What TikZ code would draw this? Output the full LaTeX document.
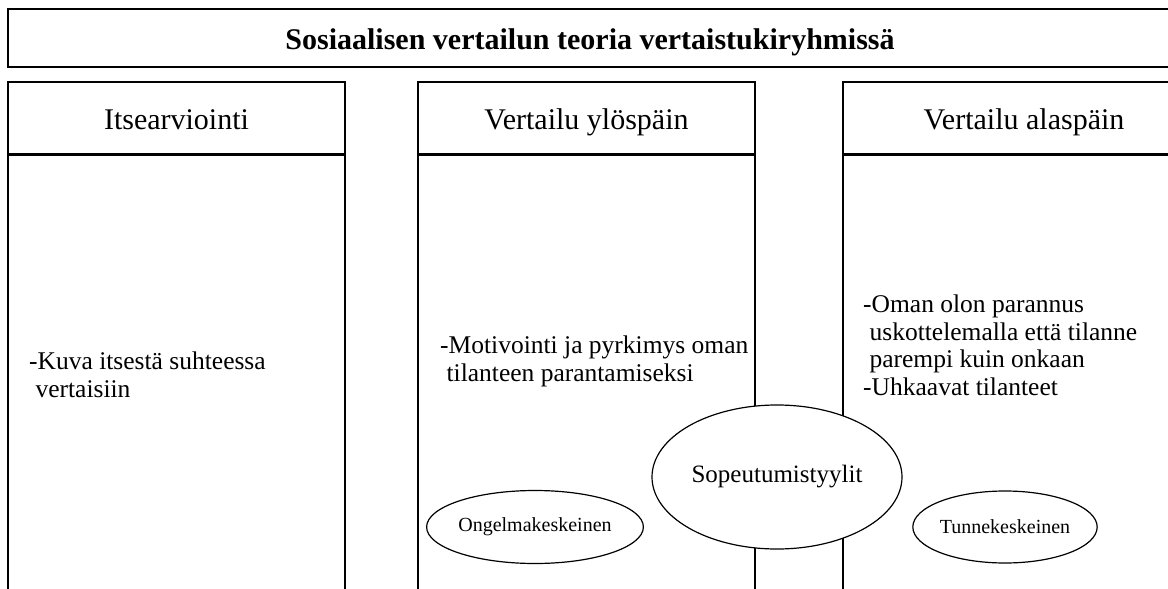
\documentclass[tikz,border=0pt]{standalone}
\usepackage{fontspec}
\setmainfont{Liberation Serif}
\usetikzlibrary{shapes.geometric,positioning}
\begin{document}
\begin{tikzpicture}[x=1pt,y=-1pt,
  box/.style={draw, line width=1.4pt, inner sep=0pt},
  hdr/.style={box, minimum height=72pt, text height=23pt, text depth=0pt, font=\fontsize{30}{36}\selectfont},
  colbody/.style={box, minimum height=520pt, anchor=north},
  txt/.style={inner sep=0pt, anchor=base west, align=left, font=\fontsize{25.5}{27.5}\selectfont},
  oval/.style={draw, fill=white, ellipse, line width=1.2pt, inner sep=0pt}]
\useasboundingbox (0,0) rectangle (1168,589);
\node[box, minimum width=1164pt, minimum height=58pt, text height=22pt, text depth=0pt, font=\bfseries\fontsize{30}{36}\selectfont] (title) at (590,38) {Sosiaalisen vertailun teoria vertaistukiryhmissä};
\node[hdr, minimum width=337pt] (self) at (176.5,118) {Itsearviointi};
\node[hdr, minimum width=337pt] (up) at (586.5,118) {Vertailu ylöspäin};
\node[hdr, minimum width=362pt] (down) at (1024,118) {Vertailu alaspäin};
\node[colbody, minimum width=337pt] (selfbody) at (self.south) {};
\node[colbody, minimum width=337pt] (upbody) at (up.south) {};
\node[colbody, minimum width=362pt] (downbody) at (down.south) {};
% base anchor sits on the last line
\node[txt] (selftxt) at (29,397) {-Kuva itsestä suhteessa\\\ vertaisiin};
\node[txt] (uptxt) at (440,381) {-Motivointi ja pyrkimys oman\\\ tilanteen parantamiseksi};
\node[txt] (downtxt) at (863,395) {-Oman olon parannus\\\ uskottelemalla että tilanne\\\ parempi kuin onkaan\\-Uhkaavat tilanteet};
\node[oval, minimum width=250pt, minimum height=144pt, font=\fontsize{25}{30}\selectfont] (coping) at (777,477) {Sopeutumistyylit};
\node[oval, minimum width=176pt, minimum height=73pt, font=\fontsize{20}{24}\selectfont] (problem) at (535,527) {Ongelmakeskeinen};
\node[oval, minimum width=178pt, minimum height=72pt, font=\fontsize{20}{24}\selectfont] (emotion) at (1005,527) {Tunnekeskeinen};
\end{tikzpicture}
\end{document}
